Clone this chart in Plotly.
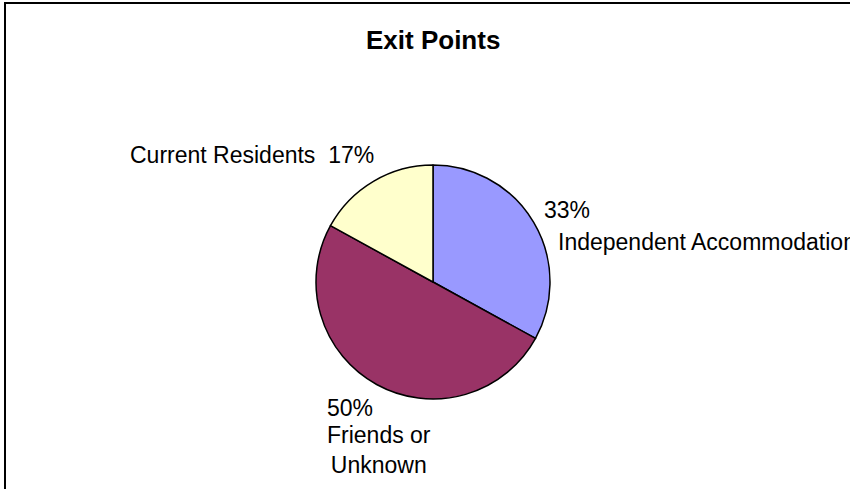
import plotly.graph_objects as go

# ---- data ----
categories = ["Independent Accommodation", "Friends or Unknown", "Current Residents"]
values = [33, 50, 17]
colors = ["#9999FF", "#993366", "#FFFFCC"]
title_text = "Exit Points"

W, H = 850, 489
FONT = "Liberation Sans, Arial, sans-serif"

def px(x):
    return x / W

def py(y):
    return 1 - y / H

# pie geometry (pixels)
cx, cy, r = 433, 282, 117

total = sum(values)
pcts = [round(v * 100 / total) for v in values]

fig = go.Figure(go.Pie(
    labels=categories,
    values=values,
    marker=dict(colors=colors, line=dict(color="#000000", width=1.5)),
    sort=False,
    direction="clockwise",
    rotation=0,
    textinfo="none",
    hoverinfo="label+percent",
    showlegend=False,
    domain=dict(x=[px(cx - r), px(cx + r)], y=[py(cy + r), py(cy - r)]),
))

lab_font = dict(family=FONT, size=23, color="#000000")
ann = []
# title
ann.append(dict(text="<b>%s</b>" % title_text, x=px(433), y=py(40.5), xref="paper", yref="paper",
                xanchor="center", yanchor="middle", showarrow=False,
                font=dict(family=FONT, size=26, color="#000000")))
# Independent Accommodation
ann.append(dict(text="%d%%" % pcts[0], x=px(542), y=py(210), xanchor="left", yanchor="middle"))
ann.append(dict(text=categories[0], x=px(556), y=py(242), xanchor="left", yanchor="middle"))
# Friends or Unknown
ann.append(dict(text="%d%%" % pcts[1], x=px(325), y=py(408), xanchor="left", yanchor="middle"))
ann.append(dict(text=categories[1].replace("or ", "or<br>"), x=px(378.5), y=py(449.5),
                xanchor="center", yanchor="middle", align="center"))
# Current Residents
ann.append(dict(text="%s\u00a0 %d%%" % (categories[2], pcts[2]), x=px(128), y=py(155),
                xanchor="left", yanchor="middle"))

for a in ann[1:]:
    a.update(xref="paper", yref="paper", showarrow=False, font=lab_font)

fig.update_layout(
    width=W, height=H,
    margin=dict(l=0, r=0, t=0, b=0),
    paper_bgcolor="#FFFFFF",
    plot_bgcolor="#FFFFFF",
    annotations=ann,
    shapes=[dict(type="rect", xref="paper", yref="paper",
                 x0=px(5), x1=px(W + 20), y0=py(H + 20), y1=py(3),
                 line=dict(color="#000000", width=2), fillcolor="rgba(0,0,0,0)", layer="above")],
)

fig.write_html(
    "out.html",
    config={"displayModeBar": False},
    post_script="document.body.style.margin='0';document.body.style.overflow='hidden';",
)
